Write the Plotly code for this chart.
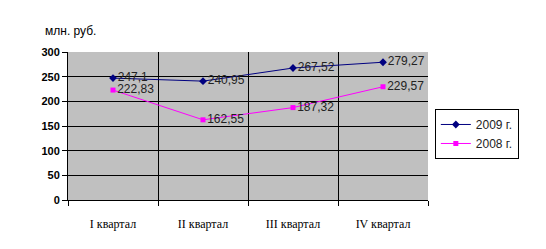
import plotly.graph_objects as go

categories = ["I квартал", "II квартал", "III квартал", "IV квартал"]
values_2009 = [247.1, 240.95, 267.52, 279.27]
values_2008 = [222.83, 162.55, 187.32, 229.57]
labels_2009 = ["247,1", "240,95", "267,52", "279,27"]
labels_2008 = ["222,83", "162,55", "187,32", "229,57"]
y_ticks = [0, 50, 100, 150, 200, 250, 300]

fig = go.Figure()
fig.add_trace(go.Scatter(
    x=categories, y=values_2009, name="2009 г.", mode="lines+markers+text",
    line=dict(color="#000080", width=1),
    marker=dict(symbol="diamond", size=6, color="#000080"),
    text=labels_2009, textposition="middle right",
    textfont=dict(family="Liberation Sans, Arial", size=12, color="#222222"),
))
fig.add_trace(go.Scatter(
    x=categories, y=values_2008, name="2008 г.", mode="lines+markers+text",
    line=dict(color="#FF00FF", width=1),
    marker=dict(symbol="square", size=5, color="#FF00FF"),
    text=labels_2008, textposition="middle right",
    textfont=dict(family="Liberation Sans, Arial", size=12, color="#222222"),
))

fig.update_layout(
    width=546, height=249,
    margin=dict(l=68, r=118, t=52, b=49),
    paper_bgcolor="white",
    plot_bgcolor="#C0C0C0",
    showlegend=True,
    legend=dict(
        x=1.019, y=0.615, xanchor="left", yanchor="top",
        bgcolor="white", bordercolor="black", borderwidth=1,
        font=dict(family="Liberation Sans, Arial", size=12, color="#222222"),
        tracegroupgap=2, itemwidth=30,
    ),
    xaxis=dict(
        type="category", tickson="boundaries", range=[-0.5, 3.5],
        showgrid=True, gridcolor="black", gridwidth=1,
        ticks="outside", ticklen=5, tickcolor="black",
        showline=True, linecolor="black", linewidth=1,
        ticklabelstandoff=13,
        tickfont=dict(family="Liberation Serif, serif", size=12, color="black"),
        zeroline=False,
    ),
    yaxis=dict(
        range=[0, 300], tickvals=y_ticks,
        showgrid=True, gridcolor="black", gridwidth=1,
        ticks="outside", ticklen=5, tickcolor="black",
        showline=True, linecolor="black", linewidth=1,
        tickfont=dict(family="Liberation Sans, Arial", size=11, color="black", weight="bold"),
        zeroline=False,
    ),
    annotations=[dict(
        text="млн. руб.", xref="paper", yref="paper", x=-0.07, y=1.08,
        xanchor="left", yanchor="bottom", showarrow=False,
        font=dict(family="Liberation Sans, Arial", size=12, color="black"),
    )],
)

fig.write_html("out.html")
